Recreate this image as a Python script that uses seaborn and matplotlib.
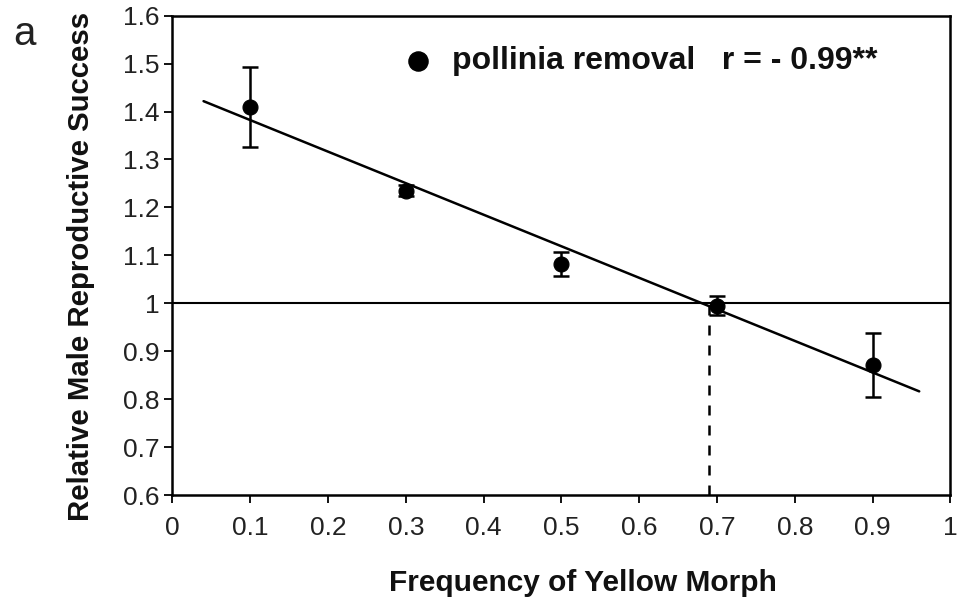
import numpy as np
import pandas as pd
import matplotlib
matplotlib.use("Agg")
import matplotlib.pyplot as plt
import seaborn as sns

# Frequency of yellow morph vs. relative male reproductive success (pollinia removal)
freq = [0.1, 0.3, 0.5, 0.7, 0.9]
success = [1.41, 1.235, 1.083, 0.995, 0.872]
err = [0.083, 0.012, 0.025, 0.02, 0.067]
equilibrium = 0.69
x_ticks = [0, 0.1, 0.2, 0.3, 0.4, 0.5, 0.6, 0.7, 0.8, 0.9, 1]
y_ticks = [0.6, 0.7, 0.8, 0.9, 1.0, 1.1, 1.2, 1.3, 1.4, 1.5, 1.6]
x_labels = ["0", "0.1", "0.2", "0.3", "0.4", "0.5", "0.6", "0.7", "0.8", "0.9", "1"]
y_labels = ["0.6", "0.7", "0.8", "0.9", "1", "1.1", "1.2", "1.3", "1.4", "1.5", "1.6"]

df = pd.DataFrame({"freq": freq, "success": success, "err": err})

sns.set_theme(style="white")
plt.rcParams["font.family"] = ["Liberation Sans", "DejaVu Sans"]

fig = plt.figure(figsize=(9.58, 6.03), dpi=100)
ax = fig.add_axes([0.18, 0.179, 0.812, 0.795])

# regression line spans slightly beyond the data
ax.set_xlim(0.04, 0.96)
sns.regplot(data=df, x="freq", y="success", ax=ax, ci=None, truncate=False,
            scatter=False, line_kws={"color": "black", "lw": 1.8})

ax.errorbar(df["freq"], df["success"], yerr=df["err"], fmt="none",
            ecolor="black", elinewidth=1.8, capsize=6, capthick=1.8, zorder=3)
sns.scatterplot(data=df, x="freq", y="success", ax=ax, color="black",
                s=115, edgecolor="black", zorder=4, legend=False)

ax.axhline(1.0, color="black", lw=1.5, zorder=2)
ax.plot([equilibrium, equilibrium], [0.6, 1.0], color="black", lw=1.8,
        ls=(0, (4, 4)), zorder=2)

ax.set_xlim(0, 1)
ax.set_ylim(0.6, 1.6)
ax.set_xticks(x_ticks)
ax.set_xticklabels(x_labels)
ax.set_yticks(y_ticks)
ax.set_yticklabels(y_labels)
ax.tick_params(axis="both", which="major", direction="out", length=6, width=1.3,
               labelsize=19, color="black", labelcolor="#222222", pad=3,
               bottom=True, left=True)
ax.tick_params(axis="x", pad=9)
for sp in ax.spines.values():
    sp.set_color("black")
    sp.set_linewidth(1.8)

ax.set_xlabel("Frequency of Yellow Morph", fontsize=21.5, fontweight="bold",
              color="#111111")
ax.set_ylabel("Relative Male Reproductive Success", fontsize=21.2,
              fontweight="bold", color="#111111")
ax.xaxis.set_label_coords(0.528, -0.155)
ax.yaxis.set_label_coords(-0.100, 0.476)

# legend entry with correlation
ax.scatter([0.316], [1.505], s=190, color="black", clip_on=False, zorder=5)
ax.text(0.36, 1.505, "pollinia removal   r = - 0.99**", fontsize=23,
        fontweight="bold", va="center", ha="left", color="#111111")

fig.text(0.014, 0.925, "a", fontsize=29, color="#222222")

fig.savefig("out.png", dpi=100, facecolor="white")
